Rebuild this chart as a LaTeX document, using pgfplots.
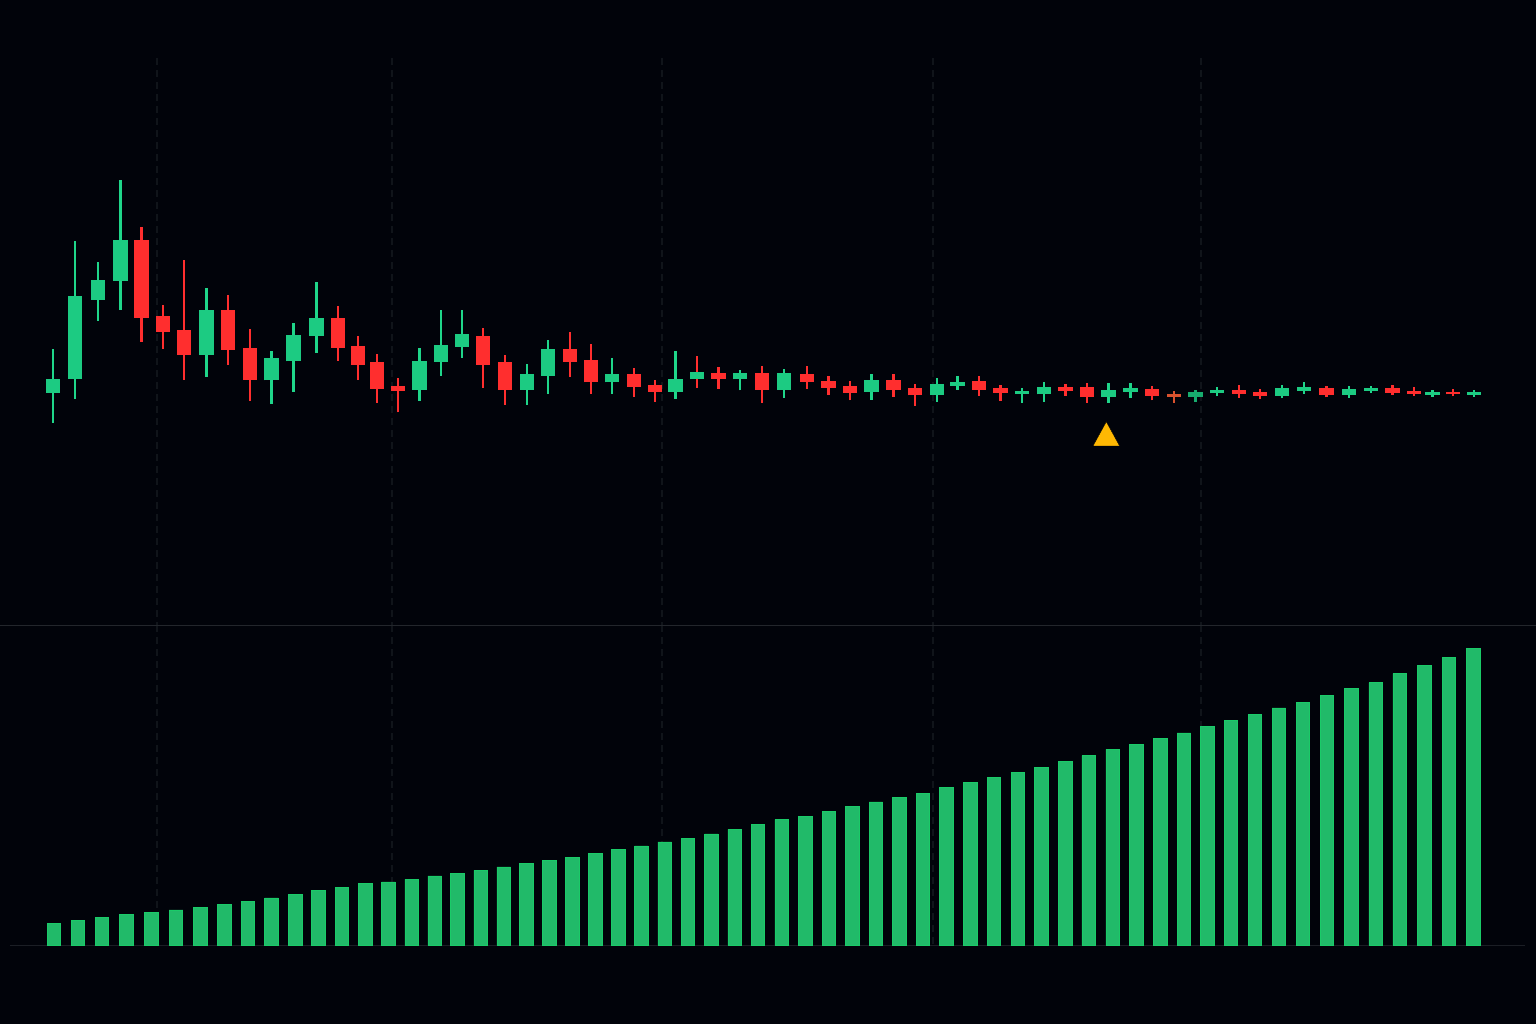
\documentclass[border=0pt]{standalone}
\usepackage{pgfplots}
\usepackage{pgfplotstable}
\pgfplotsset{compat=1.18}
\definecolor{bgc}{HTML}{01030A}
\definecolor{gridc}{HTML}{10141A}
\definecolor{sepc}{HTML}{23262C}
\definecolor{basec}{HTML}{1B1E25}
\definecolor{gEdge}{HTML}{1FD68A}
\definecolor{gFill}{HTML}{1CCB82}
\definecolor{rEdge}{HTML}{F02A2A}
\definecolor{rFill}{HTML}{FF2E2E}
\definecolor{oFill}{HTML}{D9522E}
\definecolor{dgFill}{HTML}{17AC6E}
\definecolor{vEdge}{HTML}{1ACB68}
\definecolor{vFill}{HTML}{21BA69}
\definecolor{triC}{HTML}{FFB803}
\pgfplotstableread{
x bot top lo hi
53 232.3 245.7 202 276
74.7 246 329 226 384
97.7 325 345 304.3 363.3
120.3 344 385 315 445
206.3 270.3 315 248 336.7
271.3 244.7 266.7 221 274
293.3 263.7 290.3 233.3 302
316.3 289.3 307 272 343
419.3 235 264.3 224 276.7
440.7 263.3 280 249 315
461.7 278 291 267.3 315.3
526.7 235 251 220.3 261
547.7 249 276 231.3 285
612 242.7 251 231 267
675.3 233 246 226 274.3
740 245.7 252 234.7 255
784 235.3 252 227.3 256
871.3 233 245 225 250.7
936.7 230 240.7 223 247.3
957.3 239 243.3 235 248.7
1022 231 234.3 222 237.3
1044 230.7 238 223.3 242.7
1108.3 228 235 222 241.7
1130.3 233 237.3 227 241.7
1217 231.7 235.3 228.7 238.3
1282 229 237 226.7 240
1303.7 234.3 238 231.3 243
1349 230 236.3 227.3 238.7
1371 234.3 237.3 232 239
1432.3 230.3 233 228.3 235.3
1474 230.3 233 228 235
}\greentable
\pgfplotstableread{
x bot top lo hi
141.3 307 385 283 397.7
162.7 293 309 276 320
184 270.3 295.3 245 365.3
228 275 315 260 329.7
249.7 245 277 224 296
338 277.3 307 264 319
358 260.3 279 245 289
377 236 262.7 222 271
398 234 239 212.7 247
483 260 289 237 297
505 235 263 220 269.7
569.7 263 276 248 293
591 242.7 265 231.3 281
634 238 251 228 257
655 233 239.7 223 245
718.3 246 252.3 236 257.7
762 235.3 252.3 222 259
806.7 243 251 236 258.7
828.3 237.3 244 230 248.7
850 232.3 239 224.7 244
893.3 235 245 228.3 251.3
915 229.7 237 219 240.7
979 235 243.7 229 249
1000.3 232 237 224.3 240
1065.3 234.3 238 229 240.7
1086.7 228 237.7 222.3 241.7
1152 229 236 224.7 239
1238.7 231.3 235 227.3 239.7
1260 229 233 226.3 236
1326.3 230 237 227.7 239
1392.3 232.3 237 230 240
1414 231.3 234.3 229 237.7
1452.7 230.7 233.3 228.7 236
}\redtable
\pgfplotstableread{
x bot top lo hi
696.7 245.7 253.3 237 269
}\mixedtable
\pgfplotstableread{
x bot top lo hi
1174 228 231 222.3 234
}\orangetable
\pgfplotstableread{
x bot top lo hi
1195.3 228 233 223 235.3
}\dimgreentable
\pgfplotstableread{
x vol
54 22
78 25
102 28
126.6 31
151.3 33
176 35.3
200.3 38
224.2 41
248 44
271.5 47.3
295.1 51
318.5 54.7
342 58
365.3 61.7
388.5 63.3
411.7 66
434.7 69.3
457.5 72
480.7 75
503.7 78.3
526.5 81.7
549.5 85
572.3 88
595.3 92
618.2 96
641.3 99.3
664.7 103.3
688 107
711.3 111.3
734.7 116
758 121
781.7 125.7
805.3 129
829 134
852.3 139
875.8 143.3
899.3 148
923 152
946.5 158
970.2 162.7
994 167.7
1017.8 173
1041.3 178
1065.2 184
1088.7 189.7
1112.7 196
1136.3 201
1160.2 207
1183.8 212.3
1207.5 219
1231 225
1254.8 231
1278.8 237.3
1302.8 242.7
1326.8 250
1351.3 256.7
1375.7 262.7
1399.7 271.7
1424.3 279.7
1448.8 287.7
1473.5 297
}\voltable
\newcommand{\candle}[3]{%
  \addplot[forget plot, draw=none, mark=none, error bars/.cd, y dir=plus, y explicit, error mark=none,
    error bar style={draw=#2, line width=2.4pt, solid}]
    table[x=x, y=lo, y error expr=\thisrow{hi}-\thisrow{lo}] {#1};
  \addplot[forget plot, draw=none, mark=none, error bars/.cd, y dir=plus, y explicit, error mark=none,
    error bar style={draw=#3, line width=14.4pt, solid}]
    table[x=x, y=bot, y error expr=\thisrow{top}-\thisrow{bot}] {#1};
}
\begin{document}
\begin{tikzpicture}[x=1pt,y=1pt]
\path[use as bounding box] (0,0) rectangle (1536pt,1024pt);
\fill[bgc] (-3pt,-3pt) rectangle (1539pt,1027pt);
% candle panel
\begin{axis}[at={(0pt,399pt)}, anchor=south west, scale only axis, width=1536pt, height=625pt,
  xmin=0, xmax=1536, ymin=0, ymax=625, axis lines=none, ticks=none, clip=true]
  \addplot[forget plot, gridc, line width=1.2pt, dash pattern=on 7pt off 5pt, unbounded coords=jump] coordinates {
    (157,567) (157,0) (nan,nan) (392,567) (392,0) (nan,nan) (662,567) (662,0) (nan,nan)
    (933,567) (933,0) (nan,nan) (1201,567) (1201,0)};
  \candle{\greentable}{gEdge}{gFill}
  \candle{\redtable}{rFill}{rFill}
  \candle{\mixedtable}{rFill}{gFill}
  \candle{\orangetable}{oFill}{oFill}
  \candle{\dimgreentable}{dgFill}{dgFill}
  \addplot[forget plot, only marks, mark=triangle*, mark size=16.2pt,
    mark options={draw=none, fill=triC, xscale=0.95}] coordinates {(1106.3,187.1)};
\end{axis}
% volume panel
\begin{axis}[at={(0pt,-0.3pt)}, anchor=south west, scale only axis, width=1536pt, height=399pt,
  xmin=0, xmax=1536, ymin=-79, ymax=320, axis lines=none, ticks=none, clip=false]
  \addplot[forget plot, gridc, line width=1.2pt, dash pattern=on 7pt off 5pt, unbounded coords=jump] coordinates {
    (157,320) (157,0) (nan,nan) (392,320) (392,0) (nan,nan) (662,320) (662,0) (nan,nan)
    (933,320) (933,0) (nan,nan) (1201,320) (1201,0)};
  \addplot[forget plot, sepc, line width=1.5pt] coordinates {(-3,320) (1540,320)};
  \addplot[forget plot, basec, line width=1.5pt] coordinates {(10,0) (1525,0)};
  \addplot[forget plot, ybar, bar width=13.6pt, bar shift=0pt, draw=vEdge, fill=vFill, line width=0.8pt]
    table[x=x, y=vol] {\voltable};
\end{axis}
\end{tikzpicture}
\end{document}
